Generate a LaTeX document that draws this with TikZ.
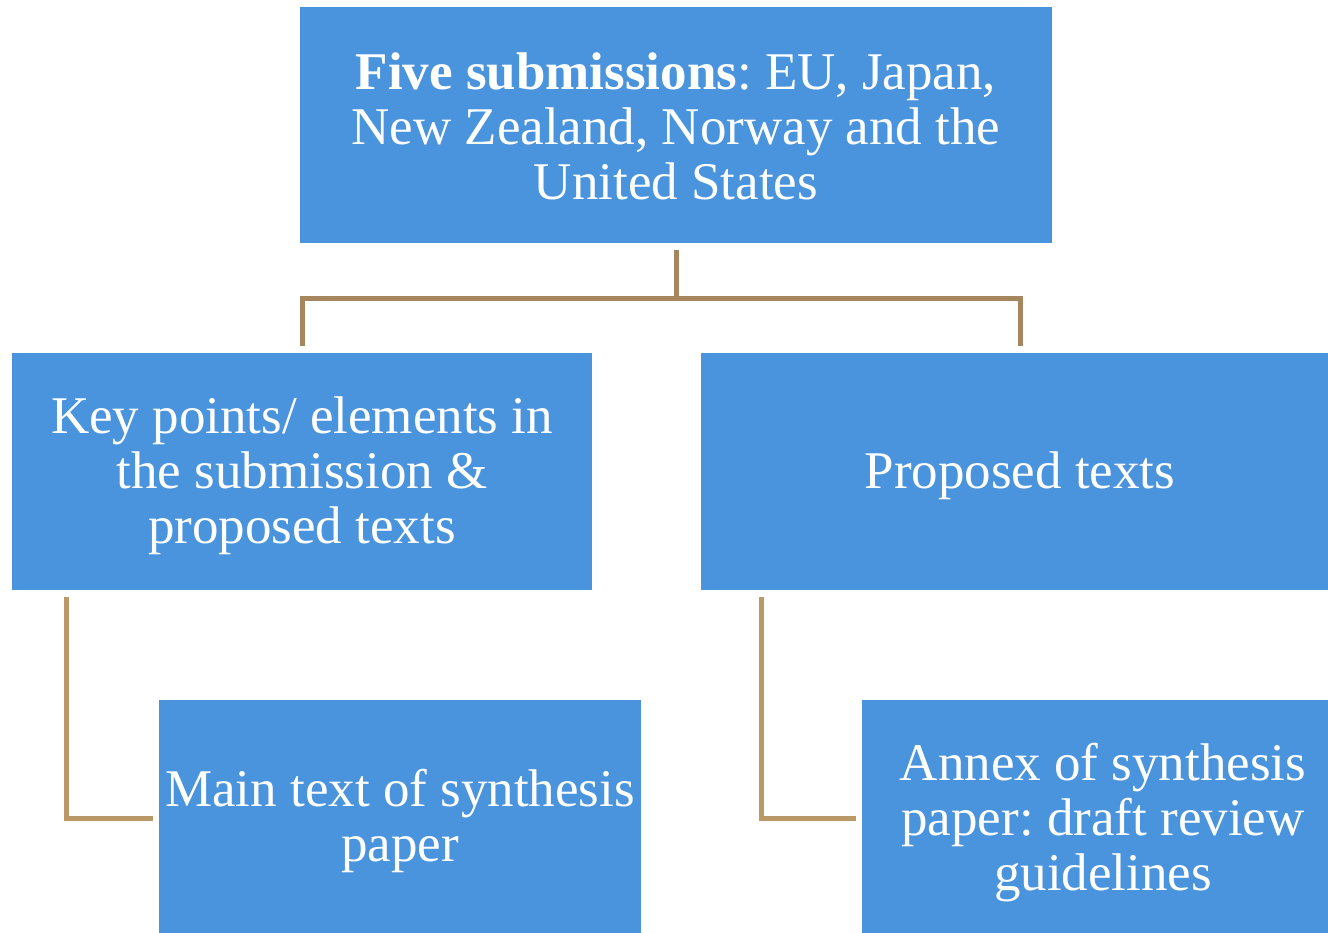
\documentclass[tikz,border=0pt]{standalone}
\usepackage{fontspec}
\setmainfont{Liberation Serif}
\frenchspacing
\definecolor{boxblue}{HTML}{4A93DD}
\definecolor{connA}{HTML}{A5865E}
\definecolor{connB}{HTML}{BA9868}
\begin{document}
\begin{tikzpicture}[x=1pt,y=-1pt,
  box/.style={rectangle, fill=boxblue, draw=none, inner sep=0pt},
  boxtext/.style={inner sep=0pt, align=center, text=white,
    font=\fontsize{53}{55}\selectfont},
  connTop/.style={draw=connA, line width=5pt, line join=miter},
  connLow/.style={draw=connB, line width=5pt, line join=miter}]
\clip (0,0) rectangle (1328,933);
\fill[white] (0,0) rectangle (1328,933);
\node[box, minimum width=752pt, minimum height=236pt] (top) at (676,125) {};
\node[boxtext] (topT) at ([yshift=-1pt]top.center)
  {\textbf{Five submissions}: EU, Japan,\\New Zealand, Norway and the\\United States};
\node[box, minimum width=580pt, minimum height=237pt] (lm) at (302,471.5) {};
\node[boxtext] (lmT) at ([yshift=-4pt]lm.center)
  {Key points/ elements in\\the submission \&\\proposed texts};
\node[box, minimum width=638pt, minimum height=237pt] (rm) at (1020,471.5) {};
\node[boxtext] (rmT) at ([yshift=-4pt]rm.center) {Proposed texts};
\node[box, minimum width=482pt, minimum height=236pt] (bl) at (400,818) {};
\node[boxtext] (blT) at ([yshift=-3pt]bl.center)
  {Main text of synthesis\\paper};
\node[box, minimum width=482pt, minimum height=236pt] (br) at (1103,818) {};
\node[boxtext] (brT) at ([yshift=-5pt]br.center)
  {Annex of synthesis\\paper: draft review\\guidelines};
\draw[connTop] ([yshift=-7pt]top.south) -- ++(0,48) -| ([yshift=7pt]lm.north);
\draw[connTop] ([yshift=-7pt]top.south) -- ++(0,48) -| ([yshift=7pt]rm.north);
\draw[connLow] ([xshift=55pt,yshift=-7pt]lm.south west) |- ([xshift=-6pt]bl.west);
\draw[connLow] ([xshift=61pt,yshift=-7pt]rm.south west) |- ([xshift=-6pt]br.west);
\end{tikzpicture}
\end{document}
